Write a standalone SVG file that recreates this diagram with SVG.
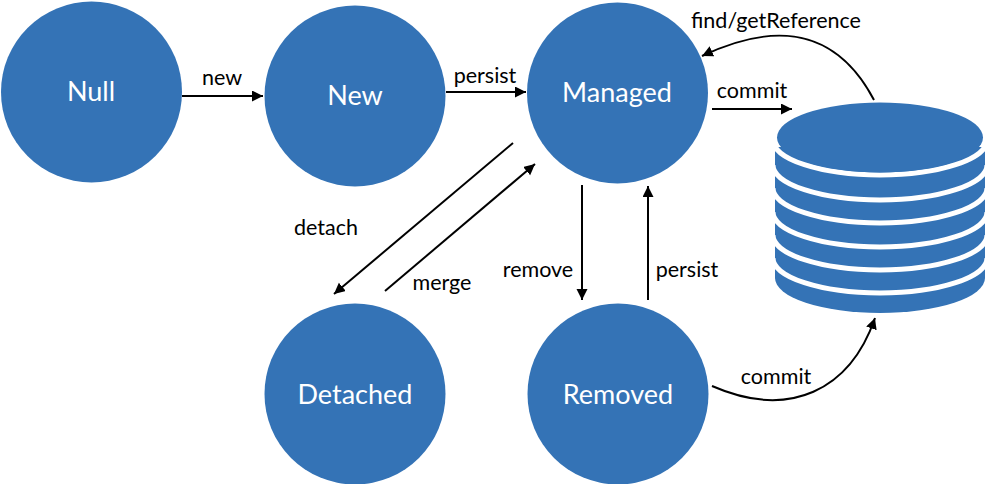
<svg xmlns="http://www.w3.org/2000/svg" width="986" height="484" viewBox="0 0 986 484">
<style>
text{font-family:"Lato","Open Sans",sans-serif;text-anchor:middle}
.n{fill:#3473b6}
.t{fill:#fff;font-size:27px}
.l{fill:#000;font-size:21.5px}
.c{fill:none;stroke:#000;stroke-width:2;marker-end:url(#a)}
.w{fill:none;stroke:#fff;stroke-width:5}
</style>
<defs><marker id="a" markerUnits="userSpaceOnUse" markerWidth="13" markerHeight="12" refX="11" refY="5.5" orient="auto"><path d="M0 0L11 5.5L0 11Z" fill="#000"/></marker></defs>
<rect width="986" height="484" fill="#fff"/>
<g id="node-null"><circle class="n" cx="91.500" cy="92" r="90.500"/><text class="t" x="91" y="101">Null</text></g>
<g id="node-new"><circle class="n" cx="355" cy="96" r="90.500"/><text class="t" x="355" y="105">New</text></g>
<g id="node-managed"><circle class="n" cx="617.500" cy="93" r="90.500"/><text class="t" x="617" y="102">Managed</text></g>
<g id="node-detached"><circle class="n" cx="355" cy="394" r="90.500"/><text class="t" x="355" y="404">Detached</text></g>
<g id="node-removed"><circle class="n" cx="618" cy="394" r="90.500"/><text class="t" x="618" y="404">Removed</text></g>
<g id="node-db">
<path class="n" d="M775 147V278A105 35 0 0 0 985 278V147Z"/>
<path class="w" d="M773 140A107 35 0 0 0 987 140M773 165A107 35 0 0 0 987 165M773 188A107 35 0 0 0 987 188M773 212A107 35 0 0 0 987 212M773 235A107 35 0 0 0 987 235M773 258A107 35 0 0 0 987 258"/>
<ellipse class="n" cx="880" cy="137.500" rx="103" ry="35"/>
</g>
<g id="connectors">
<path class="c" d="M182 96H263"/>
<path class="c" d="M446 92H526"/>
<path class="c" d="M712 109H792"/>
<path class="c" d="M513 143L334 294"/>
<path class="c" d="M385 291L535 164"/>
<path class="c" d="M582 185V300"/>
<path class="c" d="M648 300V186"/>
<path class="c" d="M874 100C845 45 795 12 702 56"/>
<path class="c" d="M712 386C790 420 850 390 875 318"/>
</g>
<g id="labels">
<text class="l" x="222" y="85">new</text>
<text class="l" x="485" y="83">persist</text>
<text class="l" x="752" y="98">commit</text>
<text class="l" x="776" y="28">find/getReference</text>
<text class="l" x="326" y="235">detach</text>
<text class="l" x="442" y="290">merge</text>
<text class="l" x="538" y="277">remove</text>
<text class="l" x="687" y="277">persist</text>
<text class="l" x="776" y="384">commit</text>
</g>
</svg>
